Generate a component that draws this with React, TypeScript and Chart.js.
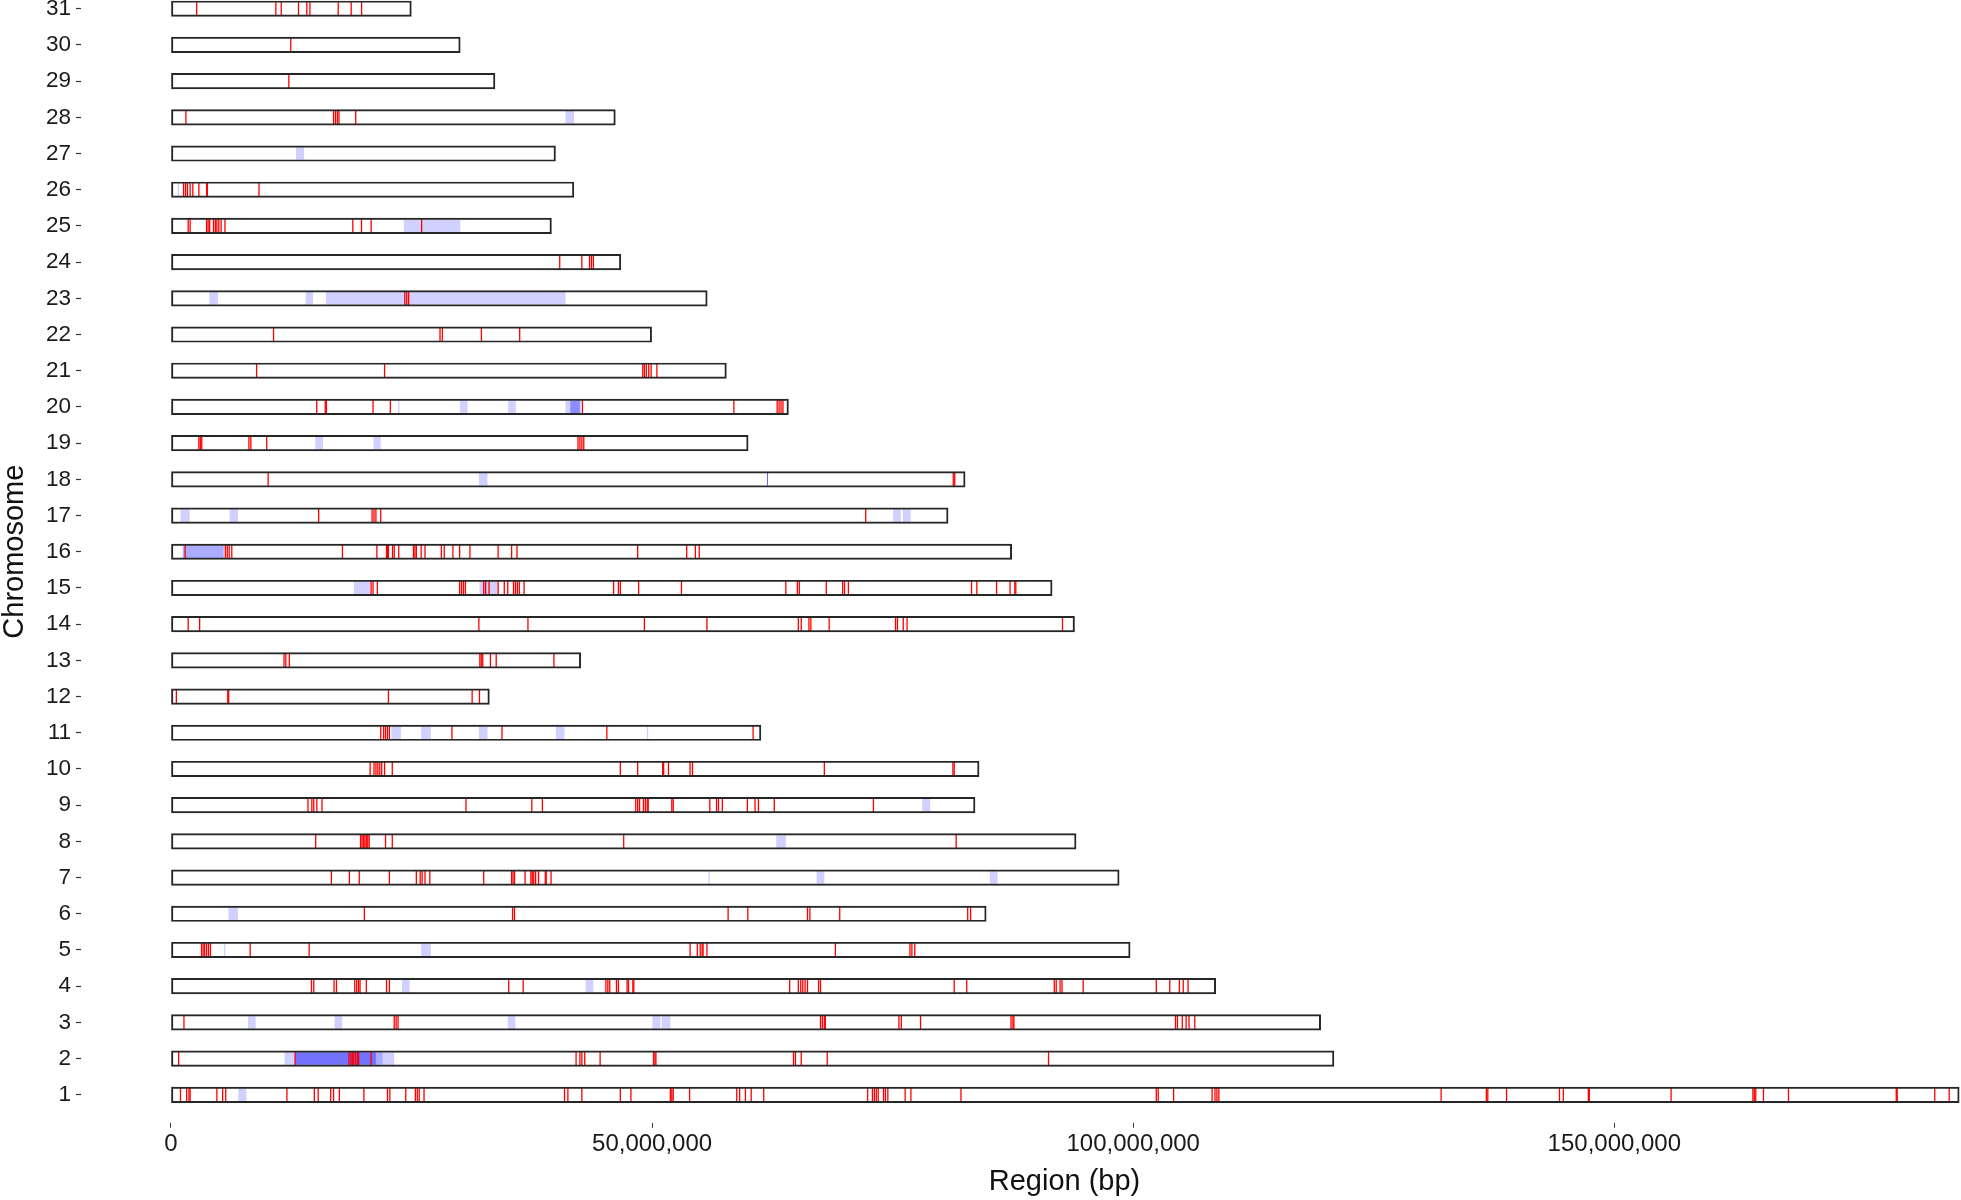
import React, { useEffect, useRef } from 'react';
import { Chart, registerables } from 'chart.js';

Chart.register(...registerables);

// ---------- DATA ----------
const chromosomeIds: number[] = [
  1, 2, 3, 4, 5, 6, 7, 8, 9, 10, 11, 12, 13, 14, 15, 16, 17, 18, 19, 20,
  21, 22, 23, 24, 25, 26, 27, 28, 29, 30, 31,
];

// chromosome lengths in Mb (chr1 .. chr31)
const chromosomeLengthsMb: number[] = [
  185.84, 120.86, 119.48, 108.57, 99.68, 84.72, 98.54, 94.06, 83.56, 83.98,
  61.31, 33.09, 42.58, 93.9, 91.57, 87.37, 80.76, 82.53, 59.98, 64.17,
  57.72, 49.95, 55.73, 46.75, 39.54, 41.87, 39.96, 46.18, 33.67, 30.06, 24.98,
];

// red marker positions in Mb, one list per chromosome (chr1 .. chr31)
const markerPositionsMb: number[][] = [
  /* 1 */ [0.99, 1.63, 1.87, 1.99, 4.77, 5.37, 5.69, 12.05, 14.9, 15.3, 16.6, 16.9, 17.5, 20.05, 22.5, 22.75, 24.4, 25.4, 25.6, 25.8, 26.3, 40.9, 41.25, 42.7, 46.7, 47.8, 51.9, 52.05, 52.2, 53.9, 58.8, 59.1, 59.7, 60.3, 61.6, 72.4, 72.9, 73.1, 73.3, 73.5, 74.05, 74.25, 74.5, 76.3, 76.9, 82.1, 102.4, 102.6, 104.2, 108.2, 108.5, 108.7, 108.9, 132.0, 136.7, 136.85, 138.8, 144.3, 144.7, 147.3, 147.4, 155.9, 164.4, 164.55, 164.7, 165.5, 168.1, 179.3, 179.4, 183.3, 184.8],
  /* 2 */ [0.8, 12.9, 18.5, 18.7, 18.85, 19.0, 19.2, 19.4, 19.5, 20.8, 42.1, 42.5, 42.7, 43.0, 44.6, 50.15, 50.3, 50.4, 64.7, 64.9, 65.5, 68.2, 91.2],
  /* 3 */ [1.35, 23.2, 23.4, 23.6, 67.5, 67.7, 67.9, 68.0, 75.65, 75.9, 77.9, 87.3, 87.5, 87.6, 104.4, 104.6, 105.1, 105.5, 105.8, 106.4],
  /* 4 */ [14.6, 14.84, 16.95, 17.2, 19.1, 19.3, 19.5, 19.65, 20.3, 22.4, 22.7, 35.1, 36.6, 45.2, 45.4, 45.6, 46.3, 46.5, 47.4, 47.55, 48.0, 48.1, 64.3, 65.2, 65.45, 65.66, 65.9, 66.15, 67.3, 67.5, 81.4, 82.7, 91.8, 92.0, 92.4, 92.6, 94.8, 102.4, 103.8, 104.8, 105.2, 105.7],
  /* 5 */ [3.18, 3.34, 3.5, 3.7, 3.9, 4.1, 8.23, 14.36, 53.95, 54.7, 55.0, 55.2, 55.3, 55.7, 69.05, 76.8, 77.0, 77.3],
  /* 6 */ [20.1, 35.5, 35.7, 57.9, 59.95, 66.15, 66.4, 69.5, 82.8, 83.1],
  /* 7 */ [16.67, 18.54, 19.57, 22.7, 25.5, 25.9, 26.1, 26.4, 26.9, 32.5, 35.4, 35.55, 35.7, 36.8, 37.4, 37.55, 37.7, 37.9, 38.2, 38.9, 39.0, 39.5],
  /* 8 */ [15.04, 19.7, 19.85, 20.0, 20.15, 20.3, 20.45, 20.6, 22.3, 23.0, 47.05, 81.6],
  /* 9 */ [14.24, 14.64, 14.84, 15.16, 15.7, 30.66, 37.5, 38.6, 48.3, 48.5, 48.7, 49.1, 49.3, 49.5, 49.6, 52.05, 52.2, 56.0, 56.7, 56.9, 57.3, 59.9, 60.7, 61.05, 62.7, 73.0],
  /* 10 */ [20.7, 21.1, 21.3, 21.5, 21.7, 21.9, 22.2, 23.0, 46.7, 48.5, 51.1, 51.2, 51.7, 53.95, 54.2, 67.9, 81.26, 81.4],
  /* 11 */ [21.8, 22.1, 22.3, 22.5, 22.7, 29.2, 34.4, 45.3, 60.5],
  /* 12 */ [0.56, 5.9, 6.0, 22.6, 31.3, 32.06],
  /* 13 */ [11.75, 11.94, 12.3, 32.1, 32.25, 32.4, 33.2, 33.8, 39.8],
  /* 14 */ [1.79, 2.98, 32.0, 37.1, 49.2, 55.7, 65.2, 65.5, 66.3, 66.5, 68.4, 75.3, 75.5, 76.1, 76.5, 92.65],
  /* 15 */ [20.8, 21.0, 21.45, 30.0, 30.2, 30.4, 30.6, 32.5, 32.7, 33.06, 34.0, 34.64, 35.0, 35.6, 35.8, 36.0, 36.2, 36.7, 46.0, 46.5, 46.7, 48.6, 53.05, 63.9, 65.1, 65.3, 68.1, 69.8, 70.0, 70.4, 83.2, 83.75, 85.8, 87.2, 87.7, 87.8],
  /* 16 */ [1.47, 5.65, 5.85, 6.05, 6.32, 17.82, 21.4, 22.4, 22.5, 22.6, 23.03, 23.2, 23.67, 25.2, 25.35, 25.5, 26.0, 26.4, 28.1, 28.4, 29.3, 30.0, 31.07, 34.0, 35.4, 35.96, 48.5, 53.6, 54.5, 54.9],
  /* 17 */ [15.35, 20.9, 21.1, 21.3, 21.8, 72.2],
  /* 18 */ [10.1, 81.3, 81.45],
  /* 19 */ [2.9, 3.05, 3.2, 8.1, 8.3, 9.95, 42.3, 42.5, 42.7, 42.9],
  /* 20 */ [15.15, 16.03, 16.15, 21.0, 22.8, 42.76, 58.5, 63.0, 63.2, 63.4, 63.6],
  /* 21 */ [8.9, 22.2, 49.03, 49.2, 49.4, 49.65, 49.9, 50.5],
  /* 22 */ [10.66, 27.96, 28.2, 32.26, 36.24],
  /* 23 */ [24.3, 24.5, 24.7],
  /* 24 */ [40.4, 42.7, 43.5, 43.7, 43.9],
  /* 25 */ [1.79, 1.99, 3.7, 3.86, 4.02, 4.42, 4.61, 4.77, 4.97, 5.21, 5.61, 18.9, 19.8, 20.8, 26.05],
  /* 26 */ [1.31, 1.51, 1.71, 1.99, 2.27, 2.9, 3.7, 3.78, 9.15],
  /* 27 */ [],
  /* 28 */ [1.55, 16.9, 17.1, 17.3, 17.46, 19.2],
  /* 29 */ [12.25],
  /* 30 */ [12.45],
  /* 31 */ [2.67, 10.9, 11.46, 13.25, 14.12, 14.44, 17.38, 18.73, 19.81],
];

// shaded (blue) regions: [chromosome, start Mb, end Mb]; overlapping entries darken
const blueRegions: [number, number, number][] = [
  [1, 7.0, 7.84],
  [2, 11.8, 23.2], [2, 12.9, 21.3], [2, 12.9, 21.3], [2, 12.9, 21.3], [2, 21.3, 22.0],
  [3, 8.0, 8.8], [3, 17.0, 17.8], [3, 35.0, 35.8], [3, 50.03, 50.87], [3, 51.0, 51.9],
  [4, 24.0, 24.8], [4, 43.1, 43.9],
  [5, 5.5, 5.65], [5, 26.0, 27.0],
  [6, 5.97, 6.96],
  [7, 55.85, 56.0], [7, 67.1, 67.9], [7, 85.1, 85.9],
  [8, 62.9, 63.9],
  [9, 78.07, 78.9],
  [11, 22.9, 23.9], [11, 26.0, 27.0], [11, 32.0, 32.9], [11, 40.0, 40.9], [11, 49.45, 49.6],
  [15, 19.0, 20.7], [15, 32.06, 33.93],
  [16, 1.23, 5.49], [16, 1.23, 5.49],
  [17, 1.0, 1.95], [17, 6.1, 6.96], [17, 75.05, 75.85], [17, 76.05, 76.88],
  [18, 32.0, 32.9], [18, 61.95, 62.05], [18, 61.95, 62.05], [18, 61.95, 62.05], [18, 61.95, 62.05], [18, 61.95, 62.05],
  [19, 15.0, 15.8], [19, 21.05, 21.8],
  [20, 23.6, 23.75], [20, 30.03, 30.83], [20, 35.04, 35.84], [20, 41.0, 42.6], [20, 41.5, 42.5], [20, 41.5, 42.5],
  [23, 3.98, 4.9], [23, 14.0, 14.76], [23, 16.1, 41.0],
  [25, 24.2, 30.07],
  [26, 0.7, 0.85],
  [27, 13.0, 13.84],
  [28, 41.0, 41.9],
];

const xTickValuesBp: number[] = [0, 50000000, 100000000, 150000000];
const xTitle = 'Region (bp)';
const yTitle = 'Chromosome';

// ---------- CHART ----------
const FONT = '"Liberation Sans", Arial, Helvetica, sans-serif';
const MB = 1e6;

export default function App() {
  const canvasRef = useRef<HTMLCanvasElement | null>(null);

  useEffect(() => {
    const canvas = canvasRef.current;
    if (!canvas) return;

    const outlineData = chromosomeIds.map((c, i) => ({ y: c, x: [0, chromosomeLengthsMb[i] * MB] }));
    const blueData = blueRegions.map(([c, s, e]) => ({ y: c, x: [s * MB, e * MB] }));
    const markerData = markerPositionsMb.flatMap((list, i) =>
      list.map((p) => ({ x: p * MB, y: chromosomeIds[i] }))
    );

    const chart = new Chart(canvas, {
      type: 'bar',
      data: {
        datasets: [
          {
            type: 'bar',
            label: 'fill',
            data: outlineData as any,
            indexAxis: 'y',
            backgroundColor: '#ffffff',
            borderWidth: 0,
            barThickness: 15.5,
            grouped: false,
            order: 10,
          } as any,
          {
            type: 'bar',
            label: 'regions',
            data: blueData as any,
            indexAxis: 'y',
            backgroundColor: 'rgba(0,0,255,0.18)',
            borderWidth: 0,
            barThickness: 12.5,
            grouped: false,
            inflateAmount: 0,
            order: 9,
          } as any,
          {
            type: 'scatter',
            label: 'markers',
            data: markerData as any,
            showLine: false,
            pointStyle: 'line',
            pointRotation: 90,
            pointRadius: 7.3,
            pointHoverRadius: 7.3,
            pointBorderWidth: 1.3,
            pointBorderColor: '#ff0000',
            pointBackgroundColor: '#ff0000',
            order: 8,
          } as any,
          {
            type: 'bar',
            label: 'outline',
            data: outlineData as any,
            indexAxis: 'y',
            backgroundColor: 'rgba(0,0,0,0)',
            borderColor: '#262626',
            borderWidth: 1.3,
            borderSkipped: false,
            barThickness: 15.5,
            grouped: false,
            order: 7,
          } as any,
        ],
      },
      options: {
        indexAxis: 'y',
        responsive: false,
        maintainAspectRatio: false,
        animation: false,
        devicePixelRatio: 1,
        events: [],
        layout: { padding: 0, autoPadding: false },
        plugins: {
          legend: { display: false },
          tooltip: { enabled: false },
        },
        scales: {
          x: {
            type: 'linear',
            position: 'bottom',
            min: -9.35 * MB,
            max: 195.07 * MB,
            offset: false,
            border: { display: false },
            grid: {
              display: true,
              offset: false,
              drawOnChartArea: false,
              drawTicks: true,
              tickLength: 4.5,
              tickColor: '#333333',
              tickWidth: 1,
            },
            ticks: {
              autoSkip: false,
              maxRotation: 0,
              minRotation: 0,
              padding: 2,
              color: '#1a1a1a',
              font: { family: FONT, size: 24 },
              callback: (v: any) => Number(v).toLocaleString('en-US'),
            },
            afterBuildTicks: (s: any) => {
              s.ticks = xTickValuesBp.map((v) => ({ value: v }));
            },
            title: {
              display: true,
              text: xTitle,
              color: '#111111',
              font: { family: FONT, size: 29, lineHeight: 1 },
              padding: { top: 0, bottom: 3.5 },
            },
            afterFit: (s: any) => {
              s.height = 76.7;
              s.paddingLeft = 0;
              s.paddingRight = 0;
            },
          },
          y: {
            type: 'linear',
            position: 'left',
            min: 0.2127,
            max: 31.793,
            offset: false,
            border: { display: false },
            grid: {
              display: true,
              offset: false,
              drawOnChartArea: false,
              drawTicks: true,
              tickLength: 5,
              tickColor: '#333333',
              tickWidth: 1.2,
            },
            ticks: {
              autoSkip: false,
              padding: 5,
              color: '#1a1a1a',
              font: { family: FONT, size: 22.5 },
              callback: (v: any) => String(v),
            },
            afterBuildTicks: (s: any) => {
              s.ticks = chromosomeIds.map((v) => ({ value: v }));
            },
            title: {
              display: true,
              text: yTitle,
              color: '#111111',
              font: { family: FONT, size: 29, lineHeight: 1 },
              padding: { top: 0, bottom: 0 },
            },
            afterFit: (s: any) => {
              s.width = 81;
              s.paddingTop = 0;
              s.paddingBottom = 0;
            },
          },
        },
      } as any,
    });

    return () => {
      chart.destroy();
    };
  }, []);

  return (
    <div
      style={{
        position: 'fixed',
        left: 0,
        top: 0,
        width: 1961,
        height: 1200,
        overflow: 'hidden',
        background: '#ffffff',
      }}
    >
      <canvas
        ref={canvasRef}
        width={2048}
        height={1220}
        style={{ position: 'absolute', left: 0, top: -20, width: 2048, height: 1220 }}
      />
    </div>
  );
}
